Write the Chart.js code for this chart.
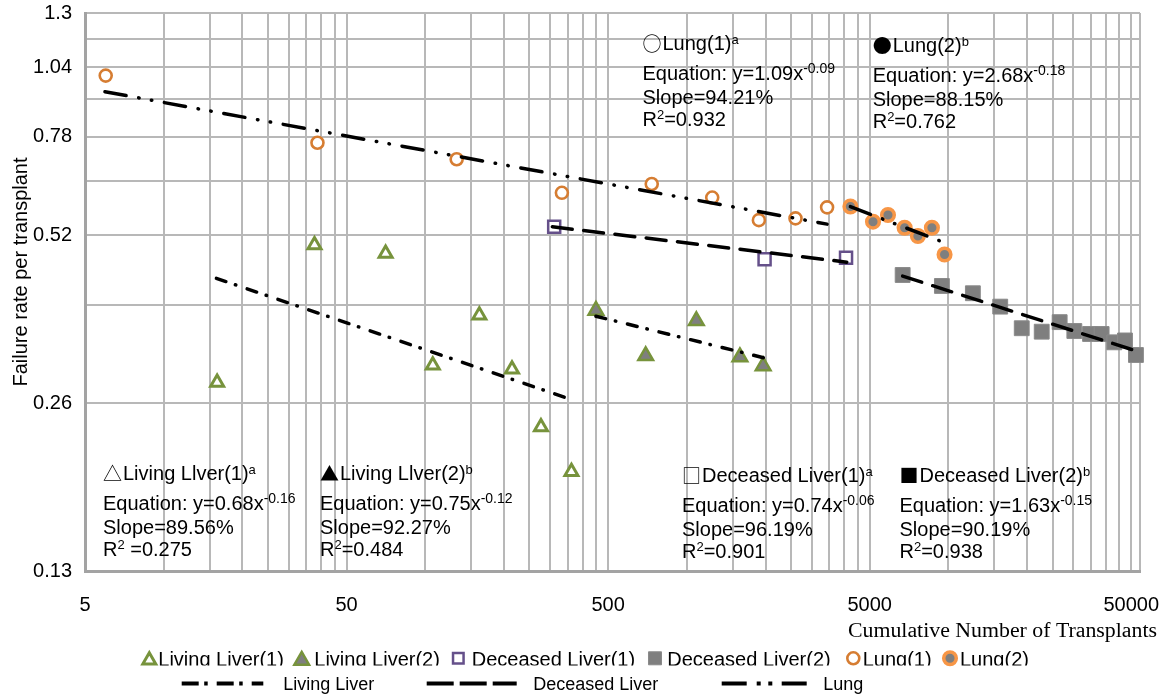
<!DOCTYPE html>
<html>
<head>
<meta charset="utf-8">
<title>Failure rate per transplant</title>
<script src="https://cdn.jsdelivr.net/npm/chart.js@4"></script>
<style>
  html, body { margin: 0; padding: 0; background: #fff; }
  #wrap { width: 1167px; height: 697px; position: relative; }
</style>
</head>
<body>
<div id="wrap"><canvas id="chart"></canvas></div>
<script>
// values: x = cumulative number of transplants, y = failure rate
const livingLiver1X = [16, 37.7, 70.5, 106.8, 160.9, 214.5, 276.8, 362];
const livingLiver1Y = [0.283, 0.499, 0.482, 0.304, 0.3735, 0.299, 0.2356, 0.1957];
const livingLiver2X = [449, 696, 1087, 1595, 1957];
const livingLiver2Y = [0.381, 0.316, 0.365, 0.3145, 0.303];
const deceasedLiver1X = [311, 1982, 4060];
const deceasedLiver1Y = [0.538, 0.4705, 0.4736];
const deceasedLiver2X = [6683, 9441, 12400, 15776, 19066, 22731, 26621, 30296, 34780, 38515, 43061, 47309, 52106];
const deceasedLiver2Y = [0.441, 0.4215, 0.409, 0.387, 0.354, 0.349, 0.363, 0.350, 0.3457, 0.3457, 0.334, 0.3366, 0.317];
const lung1X = [6.0, 38.7, 131.8, 332.8, 734, 1250, 1885, 2602, 3436];
const lung1Y = [1.004, 0.761, 0.711, 0.619, 0.642, 0.607, 0.553, 0.557, 0.583];
const lung2X = [4219, 5148, 5873, 6800, 7644, 8646, 9665];
const lung2Y = [0.585, 0.5495, 0.565, 0.536, 0.518, 0.536, 0.480];

// power trendlines (straight on log-log), start and end as drawn
const livingTrend1X = [15.9, 343], livingTrend1Y = [0.435, 0.266];
const livingTrend2X = [449, 1986], livingTrend2Y = [0.372, 0.313];
const deceasedTrend1X = [306, 4085], deceasedTrend1Y = [0.538, 0.465];
const deceasedTrend2X = [6683, 53200], deceasedTrend2Y = [0.439, 0.3214];
const lungTrend1X = [5.96, 3436], lungTrend1Y = [0.9395, 0.544];
const lungTrend2X = [4219, 9441], lungTrend2Y = [0.5846, 0.506];

// axes
const xMin = 5, xMax = 54000;
const xMajorTicks = [5, 50, 500, 5000, 50000];
const xTickLabels = ['5', '50', '500', '5000', '50000'];
const yTicks = [0.13, 0.26, 0.39, 0.52, 0.65, 0.78, 0.91, 1.04, 1.17, 1.3];
const yTickLabels = ['0.13', '0.26', '', '0.52', '', '0.78', '', '1.04', '', '1.3'];

// fit boxes
const noteNames = ['Living Llver(1)', 'Living Llver(2)', 'Deceased Liver(1)', 'Deceased Liver(2)', 'Lung(1)', 'Lung(2)'];
const noteSymbols = ['\u25B3', '\u25B2', '\u25A1', '\u25A0', '\u25CB', '\u25CF'];
const noteTags = ['a', 'b', 'a', 'b', 'a', 'b'];
const noteCoef = ['0.68', '0.75', '0.74', '1.63', '1.09', '2.68'];
const noteExp = ['-0.16', '-0.12', '-0.06', '-0.15', '-0.09', '-0.18'];
const noteSlope = ['89.56%', '92.27%', '96.19%', '90.19%', '94.21%', '88.15%'];
const noteR2 = [' =0.275', '=0.484', '=0.901', '=0.938', '=0.932', '=0.762'];

const trendNames = ['Living Liver', 'Deceased Liver', 'Lung'];

const SANS = '"Liberation Sans", Arial, sans-serif';
const SYM = '"Noto Sans CJK SC", "DejaVu Sans", sans-serif';
const GREEN = '#77933C', PURPLE = '#65508A', ORANGE = '#D67D32', ORANGE2 = '#F79646', GRAY = '#7F7F7F';
const LIVING_DASH = [10, 10, 0.5, 12];
const DECEASED_DASH = [20, 11.5];
const LUNG_DASH = [21.5, 12.75, 0.5, 12.4, 0.5, 12.75];

const pts = (xs, ys) => xs.map((x, i) => ({ x, y: ys[i] }));

function markers(label, xs, ys, style, radius, border, bw, fill) {
  return { label, data: pts(xs, ys), pointStyle: style, pointRadius: radius, pointHoverRadius: radius,
    pointBorderWidth: bw, borderColor: border, backgroundColor: fill, clip: false, order: 1 };
}
function trend(label, xs, ys, dash) {
  return { label, data: pts(xs, ys), showLine: true, pointRadius: 0, borderColor: '#000',
    borderWidth: 3.5, borderDash: dash, borderCapStyle: 'round', order: 0 };
}

const xTickValues = [];
xMajorTicks.slice(0, -1).forEach(m => { for (let k = 1; k <= 9; k++) xTickValues.push(m * k); });
xTickValues.push(50000, xMax);

// legend, fit boxes and axis titles
function runs(ctx, x, y, list) {
  list.forEach(([t, size = 20, rise = 0]) => {
    ctx.font = size + 'px ' + SANS;
    ctx.fillText(t, x, y - rise);
    x += ctx.measureText(t).width;
  });
}

function drawMarker(ctx, ds, cx, cy) {
  const r = ds.pointRadius;
  ctx.fillStyle = ds.backgroundColor;
  ctx.strokeStyle = ds.borderColor;
  ctx.lineWidth = ds.pointBorderWidth;
  ctx.setLineDash([]);
  ctx.beginPath();
  if (ds.pointStyle === 'triangle') {
    const y0 = cy + r / 4;
    ctx.moveTo(cx, y0 - r);
    ctx.lineTo(cx + r * 0.866, y0 + r / 2);
    ctx.lineTo(cx - r * 0.866, y0 + r / 2);
    ctx.closePath();
  } else if (ds.pointStyle === 'rect') {
    const h = r * 0.62;
    ctx.rect(cx - h, cy - h, 2 * h, 2 * h);
  } else {
    ctx.arc(cx, cy, r, 0, Math.PI * 2);
  }
  ctx.fill();
  ctx.stroke();
}

const noteX = [103, 320, 682, 899.5, 642.5, 872.7];
const noteBase = [480, 480, 482, 482, 50.3, 52];
const leg1Marker = [149.3, 301.7, 458.3, 655, 853.3, 950];
const leg1Text = [158.3, 314.3, 471.7, 667.3, 862.7, 960];
const leg2Line = [[181.7, 263.3, [17, 5.5, 3.5, 9]], [426.7, 516.7, [27, 6]], [721.7, 808.3, [25, 10, 4, 7.6, 4, 9.4]]];
const leg2Text = [283.3, 533.3, 823.3];

const chartTexts = {
  id: 'chartTexts',
  afterDraw(chart) {
    const ctx = chart.ctx;
    ctx.save();
    ctx.textAlign = 'left';
    ctx.textBaseline = 'alphabetic';
    ctx.fillStyle = '#000';

    for (let i = 0; i < noteNames.length; i++) {
      const x = noteX[i], b = noteBase[i];
      ctx.font = '19px ' + SYM;
      ctx.fillText(noteSymbols[i], x, b + 1);
      runs(ctx, x + 20, b, [[noteNames[i]], [noteTags[i], 13, 6]]);
      runs(ctx, x, b + 29.5, [['Equation: y=' + noteCoef[i] + 'x'], [noteExp[i], 14, 7]]);
      runs(ctx, x, b + 53.5, [['Slope=' + noteSlope[i]]]);
      runs(ctx, x, b + 75.5, [['R'], ['2', 13, 7], [noteR2[i]]]);
    }

    // y title
    ctx.save();
    ctx.translate(26.7, 272);
    ctx.rotate(-Math.PI / 2);
    ctx.textAlign = 'center';
    ctx.font = '20px ' + SANS;
    ctx.fillText('Failure rate per transplant', 0, 0);
    ctx.restore();

    // x title
    ctx.save();
    ctx.font = '20px "Liberation Serif", "Times New Roman", serif';
    const t = 'Cumulative Number of Transplants';
    const w = ctx.measureText(t).width;
    ctx.translate(1157, 637);
    ctx.scale(309 / w, 1);
    ctx.textAlign = 'right';
    ctx.fillText(t, 0, 0);
    ctx.restore();

    // legend row 1: markers (text clipped at the bottom as in the figure)
    const sets = chart.data.datasets.filter(d => !d.showLine);
    sets.forEach((ds, i) => drawMarker(ctx, ds, leg1Marker[i], 658.3));
    ctx.save();
    ctx.beginPath();
    ctx.rect(0, 640, 1167, 25.5);
    ctx.clip();
    ctx.fillStyle = '#000';
    ctx.font = '20px ' + SANS;
    sets.forEach((ds, i) => ctx.fillText(ds.label, leg1Text[i], 666));
    ctx.restore();

    // legend row 2: trendline styles
    ctx.strokeStyle = '#000';
    ctx.lineWidth = 4;
    ctx.lineCap = 'butt';
    leg2Line.forEach(([x1, x2, dash], i) => {
      ctx.setLineDash(dash);
      ctx.beginPath();
      ctx.moveTo(x1, 683.5);
      ctx.lineTo(x2, 683.5);
      ctx.stroke();
      ctx.setLineDash([]);
      ctx.fillStyle = '#000';
      ctx.font = '18px ' + SANS;
      ctx.fillText(trendNames[i], leg2Text[i], 690);
    });
    ctx.restore();
  }
};

Chart.defaults.font.family = SANS;
Chart.defaults.font.size = 20;
Chart.defaults.color = '#000';

new Chart(document.getElementById('chart'), {
  type: 'scatter',
  data: {
    datasets: [
      markers('Living Liver(1)', livingLiver1X, livingLiver1Y, 'triangle', 7.5, GREEN, 3, '#fff'),
      markers('Living Liver(2)', livingLiver2X, livingLiver2Y, 'triangle', 8.5, GREEN, 2.5, GRAY),
      markers('Deceased Liver(1)', deceasedLiver1X, deceasedLiver1Y, 'rect', 8.5, PURPLE, 2.5, '#fff'),
      markers('Deceased Liver(2)', deceasedLiver2X, deceasedLiver2Y, 'rect', 10.5, '#8A8A8A', 1, GRAY),
      markers('Lung(1)', lung1X, lung1Y, 'circle', 6, ORANGE, 2.6, '#fff'),
      markers('Lung(2)', lung2X, lung2Y, 'circle', 6.3, ORANGE2, 3.5, GRAY),
      trend('Living Liver', livingTrend1X, livingTrend1Y, LIVING_DASH),
      trend('Living Liver', livingTrend2X, livingTrend2Y, LIVING_DASH),
      trend('Deceased Liver', deceasedTrend1X, deceasedTrend1Y, DECEASED_DASH),
      trend('Deceased Liver', deceasedTrend2X, deceasedTrend2Y, DECEASED_DASH),
      trend('Lung', lungTrend1X, lungTrend1Y, LUNG_DASH),
      trend('Lung', lungTrend2X, lungTrend2Y, LUNG_DASH)
    ]
  },
  options: {
    responsive: true,
    maintainAspectRatio: false,
    animation: false,
    events: [],
    layout: { padding: { top: 13, right: 27, left: 0, bottom: 0 } },
    plugins: { legend: { display: false }, tooltip: { enabled: false } },
    scales: {
      x: {
        type: 'logarithmic',
        min: xMin,
        max: xMax,
        afterBuildTicks: s => { s.ticks = xTickValues.map(v => ({ value: v })); },
        afterFit: s => { s.height = 126; s.paddingLeft = 0; s.paddingRight = 0; },
        ticks: {
          autoSkip: false, maxRotation: 0, minRotation: 0, padding: 22,
          font: { size: 20 },
          callback: v => { const i = xMajorTicks.indexOf(v); return i >= 0 ? xTickLabels[i] : ''; }
        },
        grid: { color: '#B8B8B8', lineWidth: 2, drawTicks: false },
        border: { color: '#A3A3A3', width: 3 }
      },
      y: {
        type: 'logarithmic',
        min: yTicks[0],
        max: yTicks[yTicks.length - 1],
        afterBuildTicks: s => { s.ticks = yTicks.map(v => ({ value: v })); },
        afterFit: s => { s.width = 85; s.paddingTop = 0; s.paddingBottom = 0; },
        ticks: {
          autoSkip: false, padding: 13,
          font: { size: 20 },
          callback: (v, i) => yTickLabels[i]
        },
        grid: { color: '#B8B8B8', lineWidth: 2, drawTicks: false },
        border: { color: '#A3A3A3', width: 3 }
      }
    }
  },
  plugins: [chartTexts]
});
</script>
</body>
</html>
